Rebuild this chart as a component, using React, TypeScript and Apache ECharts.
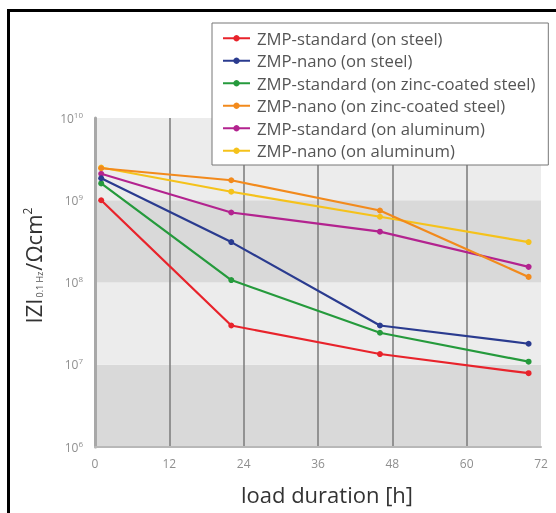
import React, { useEffect, useRef } from "react";
import * as echarts from "echarts";

const hours = [1, 22, 46, 70];
const seriesNames = [
  "ZMP-standard (on steel)",
  "ZMP-nano (on steel)",
  "ZMP-standard (on zinc-coated steel)",
  "ZMP-nano (on zinc-coated steel)",
  "ZMP-standard (on aluminum)",
  "ZMP-nano (on aluminum)",
];
const stdSteel = [1.0e9, 3.0e7, 1.35e7, 7.9e6];
const nanoSteel = [1.85e9, 3.1e8, 3.0e7, 1.8e7];
const stdZinc = [1.6e9, 1.07e8, 2.45e7, 1.09e7];
const nanoZinc = [2.45e9, 1.75e9, 7.5e8, 1.17e8];
const stdAlu = [2.1e9, 7.1e8, 4.15e8, 1.55e8];
const nanoAlu = [2.5e9, 1.27e9, 6.3e8, 3.1e8];
const seriesValues = [stdSteel, nanoSteel, stdZinc, nanoZinc, stdAlu, nanoAlu];
const colors = ["#e8232b", "#2a3b8f", "#259a3c", "#f28a1c", "#b3238f", "#f5c21b"];
const xTicks = [0, 12, 24, 36, 48, 60, 72];

export default function App() {
  const ref = useRef<HTMLDivElement>(null);
  useEffect(() => {
    if (!ref.current) return;
    const chart = echarts.init(ref.current, undefined, { renderer: "svg" });
    const font = "Open Sans";
    chart.setOption({
      animation: false,
      textStyle: { fontFamily: font },
      grid: { left: 95, right: 15, top: 118, bottom: 66 },
      graphic: [
        { type: "line", shape: { x1: 7, y1: 10.5, x2: 556, y2: 10.5 }, style: { stroke: "#000", lineWidth: 3 } },
        { type: "line", shape: { x1: 8.5, y1: 9, x2: 8.5, y2: 513 }, style: { stroke: "#000", lineWidth: 3 } },
      ],
      legend: {
        orient: "vertical",
        left: 212,
        top: 23,
        backgroundColor: "#fff",
        borderColor: "#777",
        borderWidth: 1,
        borderRadius: 0,
        padding: [4, 13, 3, 10],
        itemGap: 0,
        itemWidth: 27,
        itemHeight: 8,
        data: seriesNames,
        textStyle: { fontFamily: font, fontSize: 16.7, color: "#555", lineHeight: 22.5, padding: [0, 0, 0, 2] },
      },
      xAxis: {
        type: "value",
        min: 0,
        max: 72,
        interval: 12,
        name: "load duration [h]",
        nameLocation: "middle",
        nameGap: 36,
        nameTextStyle: { fontSize: 22, color: "#333", fontFamily: font, padding: [0, 0, 0, 18] },
        axisLine: { show: true, lineStyle: { color: "#b8b8b8", width: 2 } },
        axisTick: { show: false },
        axisLabel: {
          margin: 10,
          fontSize: 12,
          color: "#8f8f8f",
          formatter: (v: number) => (xTicks.includes(v) ? String(v) : ""),
        },
        splitLine: { show: true, showMinLine: false, showMaxLine: false, lineStyle: { color: "#7a7a7a", width: 1.5 } },
      },
      yAxis: {
        type: "log",
        logBase: 10,
        min: 1e6,
        max: 1e10,
        name: "{a|IZI}{sub|0.1 Hz}{a|/Ωcm}{sup|2}",
        nameLocation: "middle",
        nameGap: 50,
        nameTextStyle: {
          padding: [0, 0, 0, 34],
          rich: {
            a: { fontSize: 22, color: "#333", fontFamily: font },
            sub: { fontSize: 9, color: "#555", fontFamily: font, padding: [12, 1, 0, 1] },
            sup: { fontSize: 12, color: "#333", fontFamily: font, padding: [0, 0, 12, 0] },
          },
        },
        axisLine: { show: true, lineStyle: { color: "#a8a8a8", width: 3 } },
        axisTick: { show: false },
        axisLabel: {
          margin: 12,
          formatter: (v: number) => `{b|10}{s|${Math.round(Math.log10(v))}}`,
          rich: {
            b: { fontSize: 12, color: "#8f8f8f", fontFamily: font },
            s: { fontSize: 8, color: "#8f8f8f", fontFamily: font, padding: [0, 0, 8, 0] },
          },
        },
        splitLine: { show: false },
        splitArea: { show: true, areaStyle: { color: ["#ececec", "#d9d9d9"] } },
      },
      series: seriesNames.map((name, i) => ({
        name,
        type: "line",
        data: hours.map((h, j) => [h, seriesValues[i][j]]),
        color: colors[i],
        symbol: "circle",
        symbolSize: 6,
        lineStyle: { width: 2.2, color: colors[i] },
        itemStyle: { color: colors[i] },
        z: 2 + (5 - i),
      })),
    });
    return () => chart.dispose();
  }, []);
  return <div ref={ref} style={{ position: "fixed", left: 0, top: 0, width: 556, height: 513 }} />;
}
